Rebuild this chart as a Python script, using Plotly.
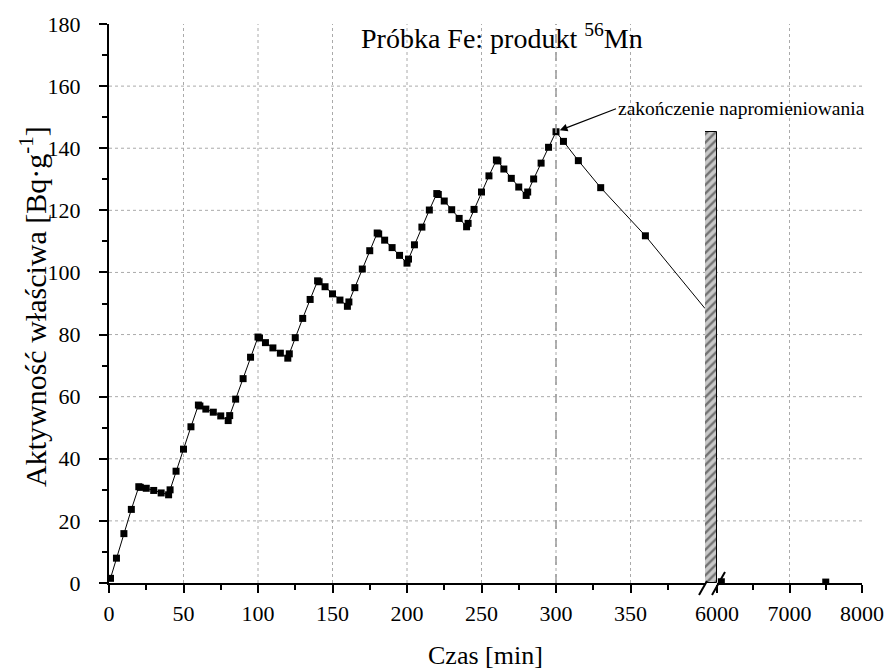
import plotly.graph_objects as go

# 56Mn activity in the Fe sample: cyclic irradiation up to 300 min, then decay
time_min = [1, 5, 10, 15, 20, 21, 25, 30, 35, 40, 41, 45, 50, 55, 60, 61, 65, 70, 75, 80, 81,
            85, 90, 95, 100, 101, 105, 110, 115, 120, 121, 125, 130, 135, 140, 141, 145, 150,
            155, 160, 161, 165, 170, 175, 180, 181, 185, 190, 195, 200, 201, 205, 210, 215,
            220, 221, 225, 230, 235, 240, 241, 245, 250, 255, 260, 261, 265, 270, 275, 280,
            281, 285, 290, 295, 300, 305, 315, 330, 360]
activity = [1.5, 8.0, 15.9, 23.7, 31.0, 30.8, 30.5, 29.8, 29.0, 28.4, 30.0, 36.0, 43.1, 50.3,
            57.3, 57.0, 56.0, 55.0, 53.8, 52.3, 53.9, 59.2, 65.8, 72.7, 79.2, 78.9, 77.4, 75.7,
            74.0, 72.4, 73.8, 79.0, 85.2, 91.3, 97.3, 97.0, 95.4, 93.1, 91.1, 89.1, 90.5, 95.1,
            101.1, 107.0, 112.7, 112.4, 110.4, 108.0, 105.5, 103.0, 104.3, 108.9, 114.6, 120.1,
            125.4, 125.1, 123.0, 120.2, 117.4, 114.7, 115.8, 120.3, 125.9, 131.1, 136.2, 135.9,
            133.3, 130.3, 127.5, 124.8, 125.9, 130.1, 135.2, 140.3, 145.3, 142.2, 136.0, 127.3,
            111.8]

# decay trend continued up to the axis break
tail_time = [360, 400]
tail_activity = [111.8, 88.4]

# late measurements after the break
late_time = [6060, 7500]
late_activity = [0.4, 0.3]

irradiation_end = 300

left_range = [0, 400]
right_range = [6000, 8000]
left_ticks = [0, 50, 100, 150, 200, 250, 300, 350]
right_ticks = [6000, 7000, 8000]
y_ticks = [0, 20, 40, 60, 80, 100, 120, 140, 160, 180]
y_grid = [20, 40, 60, 80, 100, 120, 140, 160]
left_grid = [50, 100, 150, 200, 250, 300, 350]
right_grid = [7000]

# x-domain split of the broken axis (plot area 753 px wide)
d1 = 596 / 753
d2 = 608 / 753

FONT = "Liberation Serif"
black = "black"

fig = go.Figure()

fig.add_trace(go.Scatter(
    x=tail_time, y=tail_activity, xaxis="x", yaxis="y", mode="lines",
    line=dict(color=black, width=1), showlegend=False, hoverinfo="skip"))
fig.add_trace(go.Scatter(
    x=time_min, y=activity, xaxis="x", yaxis="y", mode="lines+markers",
    line=dict(color=black, width=1),
    marker=dict(symbol="square", size=7, color=black), showlegend=False))
fig.add_trace(go.Scatter(
    x=late_time, y=late_activity, xaxis="x2", yaxis="y", mode="markers",
    marker=dict(symbol="square", size=7, color=black), showlegend=False))

# hatched bar marking the axis break, up to the peak activity
fig.add_trace(go.Bar(
    x=[0], y=[max(activity)], width=[1], xaxis="x3", yaxis="y",
    marker=dict(color="#c8c8c8", line=dict(color=black, width=1),
                pattern=dict(shape="/", bgcolor="#c8c8c8", fgcolor="#1a1a1a",
                             size=6, solidity=0.4)),
    showlegend=False, hoverinfo="skip"))

axis_common = dict(
    showline=True, linecolor=black, linewidth=2, ticks="outside", ticklen=8,
    tickwidth=2, tickcolor=black, showgrid=False, zeroline=False, automargin=False,
    tickfont=dict(family=FONT, size=22, color=black))

fig.update_layout(
    width=888, height=670,
    margin=dict(l=109, r=26, t=24, b=87, autoexpand=False),
    paper_bgcolor="white", plot_bgcolor="white",
    bargap=0,
    xaxis=dict(domain=[0, d1], range=left_range, tickvals=left_ticks,
               minor=dict(tickvals=[25, 75, 125, 175, 225, 275, 325, 375], ticks="outside",
                          ticklen=5, tickwidth=2, tickcolor=black),
               anchor="y", ticklabelstandoff=2, **axis_common),
    xaxis2=dict(domain=[d2, 1], range=right_range, tickvals=right_ticks,
                minor=dict(tickvals=[6500, 7500], ticks="outside", ticklen=5,
                           tickwidth=2, tickcolor=black),
                anchor="y", ticklabelstandoff=2, **axis_common),
    xaxis3=dict(domain=[d1, d2], range=[-0.5, 0.5], visible=False, anchor="y",
                automargin=False),
    yaxis=dict(range=[0, 180], tickvals=y_ticks,
               minor=dict(dtick=10, ticks="outside", ticklen=5, tickwidth=2,
                          tickcolor=black),
               anchor="x", ticklabelstandoff=14, **axis_common),
)

shapes = []
grid_line = dict(color="#aaaaaa", width=1, dash="dot")
for gy in y_grid:
    shapes.append(dict(type="line", xref="paper", yref="y", x0=0, x1=1, y0=gy, y1=gy,
                       line=grid_line, layer="below"))
for gx in left_grid:
    shapes.append(dict(type="line", xref="x", yref="paper", x0=gx, x1=gx, y0=0, y1=1,
                       line=grid_line, layer="below"))
for gx in right_grid:
    shapes.append(dict(type="line", xref="x2", yref="paper", x0=gx, x1=gx, y0=0, y1=1,
                       line=grid_line, layer="below"))

# end of irradiation
shapes.append(dict(type="line", xref="x", yref="paper", x0=irradiation_end,
                   x1=irradiation_end, y0=0, y1=1,
                   line=dict(color="#9a9a9a", width=1.5, dash="dash"), layer="above"))

# break marks on the time axis
for anchor_x, (dx0, dy0, dx1, dy1) in ((d1, (-6, -12, 2, 2)), (d2, (-5, -12, 8, 11))):
    shapes.append(dict(type="line", xref="paper", yref="paper",
                       xsizemode="pixel", ysizemode="pixel",
                       xanchor=anchor_x, yanchor=0,
                       x0=dx0, y0=dy0, x1=dx1, y1=dy1,
                       line=dict(color=black, width=2), layer="above"))

fig.update_layout(shapes=shapes)

fig.add_annotation(
    text="Próbka Fe: produkt <sup>56</sup>Mn", xref="paper", yref="paper",
    x=0.522, y=0.977, xanchor="center", yanchor="middle", showarrow=False,
    font=dict(family=FONT, size=28, color=black))
fig.add_annotation(
    text="zakończenie napromieniowania", xref="x", yref="y",
    x=irradiation_end, y=max(activity), ax=60, ay=-23,
    xanchor="left", yanchor="middle", showarrow=True,
    arrowhead=2, arrowsize=1.3, arrowwidth=1.2, arrowcolor=black, standoff=4,
    font=dict(family=FONT, size=19.5, color=black))
fig.add_annotation(
    text="Czas [min]", xref="paper", yref="paper", x=0.5, y=-0.129,
    xanchor="center", yanchor="middle",
    showarrow=False, font=dict(family=FONT, size=26, color=black))
fig.add_annotation(
    text="Aktywność właściwa [Bq·g<sup>-1</sup>]", xref="paper", yref="paper",
    x=-0.1, y=0.495, xanchor="center", yanchor="middle", textangle=-90, showarrow=False,
    font=dict(family=FONT, size=30, color=black))

fig.write_html("out.html")
